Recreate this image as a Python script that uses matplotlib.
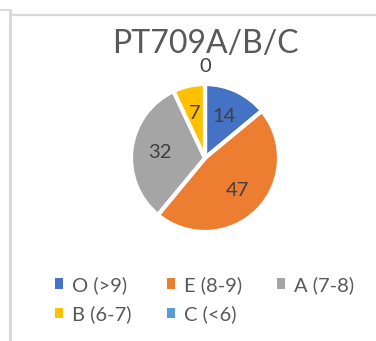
import matplotlib
matplotlib.use("Agg")
import matplotlib.pyplot as plt
from matplotlib.lines import Line2D
from matplotlib.patches import Patch
import numpy as np

title = "PT709A/B/C"
categories = ["O (>9)", "E (8-9)", "A (7-8)", "B (6-7)", "C (<6)"]
values = [14, 47, 32, 7, 0]
colors = ["#4472C4", "#ED7D31", "#A5A5A5", "#FFC000", "#5B9BD5"]

W, H = 376, 341
fig = plt.figure(figsize=(W / 100, H / 100), dpi=100)
fig.patch.set_facecolor("white")
plt.rcParams["font.family"] = ["Lato", "DejaVu Sans"]

def px(x, y):
    return x / W, 1 - y / H

# chart frame lines
border = "#D9D9D9"
for (x0, y0), (x1, y1), lw in [((0, 10), (9, 10), 1.4),
                               ((9.5, 10), (9.5, 341), 2.2),
                               ((11, 14.5), (376, 14.5), 1.6)]:
    a, b = px(x0, y0)
    c, d = px(x1, y1)
    fig.add_artist(Line2D([a, c], [b, d], color=border, lw=lw,
                          transform=fig.transFigure))

# pie
cx, cy, R = 205, 158, 74
ax = fig.add_axes([(cx - R) / W, 1 - (cy + R) / H, 2 * R / W, 2 * R / H])
wedges, _ = ax.pie(values, colors=colors, startangle=90, counterclock=False,
                   wedgeprops=dict(edgecolor="white", linewidth=3))
ax.set_xlim(-1, 1)
ax.set_ylim(-1, 1)
ax.set_aspect("equal")
ax.axis("off")

for w, v in zip(wedges, values):
    mid = np.deg2rad((w.theta1 + w.theta2) / 2)
    dist = 0.62 if v > 0 else 1.23
    ax.text(dist * np.cos(mid), dist * np.sin(mid), str(v),
            ha="center", va="center", fontsize=14.5, color="#404040")

fig.text(205 / W, 1 - 44 / H, title, ha="center", va="center",
         fontsize=23, color="#595959")

# legend, filled row by row
order = [0, 3, 1, 4, 2]
handles = [Patch(facecolor=colors[i], edgecolor="none") for i in order]
labels = [categories[i] for i in order]
leg = fig.legend(handles, labels, ncol=3, loc="center left",
                 bbox_to_anchor=(55 / W, 1 - 299.5 / H), frameon=False,
                 fontsize=14.5, labelcolor="#595959",
                 handlelength=0.4, handleheight=0.4, handletextpad=0.45,
                 columnspacing=1.75, labelspacing=0.58, borderpad=0,
                 borderaxespad=0)

fig.savefig("out.png", dpi=100, facecolor="white")
